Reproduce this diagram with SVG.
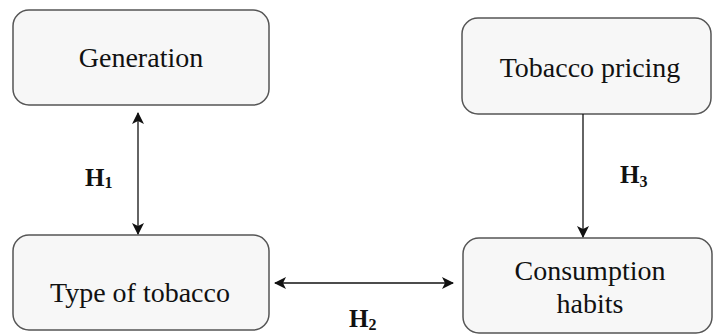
<svg xmlns="http://www.w3.org/2000/svg" width="713" height="336" viewBox="0 0 713 336">
<style>
.box{fill:#f7f7f7;stroke:#555;stroke-width:1.5}
.lbl{font-size:28px;fill:#111;text-anchor:middle}
.h{font-size:25px;font-weight:bold;fill:#111}
.sub{font-size:16px}
.conn{stroke:#111;stroke-width:1.3;fill:none}
</style>
<defs>
<marker id="ah" viewBox="0 0 12 12" refX="11" refY="6" markerWidth="12" markerHeight="12" markerUnits="userSpaceOnUse" orient="auto-start-reverse">
<path d="M0,0 L12,6 L0,12 L3,6 Z" fill="#111"/>
</marker>
</defs>
<rect width="713" height="336" fill="#fff"/>
<g font-family="Liberation Serif, Tinos, Noto Serif, DejaVu Serif, serif">
<g id="generation">
<rect class="box" x="13" y="10" width="256" height="95" rx="16"/>
<text class="lbl" x="141" y="67">Generation</text>
</g>
<g id="tobacco-pricing">
<rect class="box" x="462" y="18" width="249" height="96" rx="16"/>
<text class="lbl" x="590" y="77">Tobacco pricing</text>
</g>
<g id="type-of-tobacco">
<rect class="box" x="13" y="235" width="256" height="95" rx="16"/>
<text class="lbl" x="140" y="302">Type of tobacco</text>
</g>
<g id="consumption-habits">
<rect class="box" x="463" y="238" width="249" height="95" rx="16"/>
<text class="lbl" x="590" y="280">Consumption</text>
<text class="lbl" x="590" y="313">habits</text>
</g>
<g id="connectors">
<line class="conn" x1="138" y1="113" x2="138" y2="234" marker-start="url(#ah)" marker-end="url(#ah)"/>
<line class="conn" x1="583" y1="114" x2="583" y2="237" marker-end="url(#ah)"/>
<line class="conn" x1="275" y1="283" x2="453" y2="283" marker-start="url(#ah)" marker-end="url(#ah)"/>
<text class="h" x="85" y="186">H<tspan class="sub" dy="2">1</tspan></text>
<text class="h" x="620" y="183">H<tspan class="sub" dy="4">3</tspan></text>
<text class="h" x="349" y="327">H<tspan class="sub" dy="3">2</tspan></text>
</g>
</g>
</svg>
